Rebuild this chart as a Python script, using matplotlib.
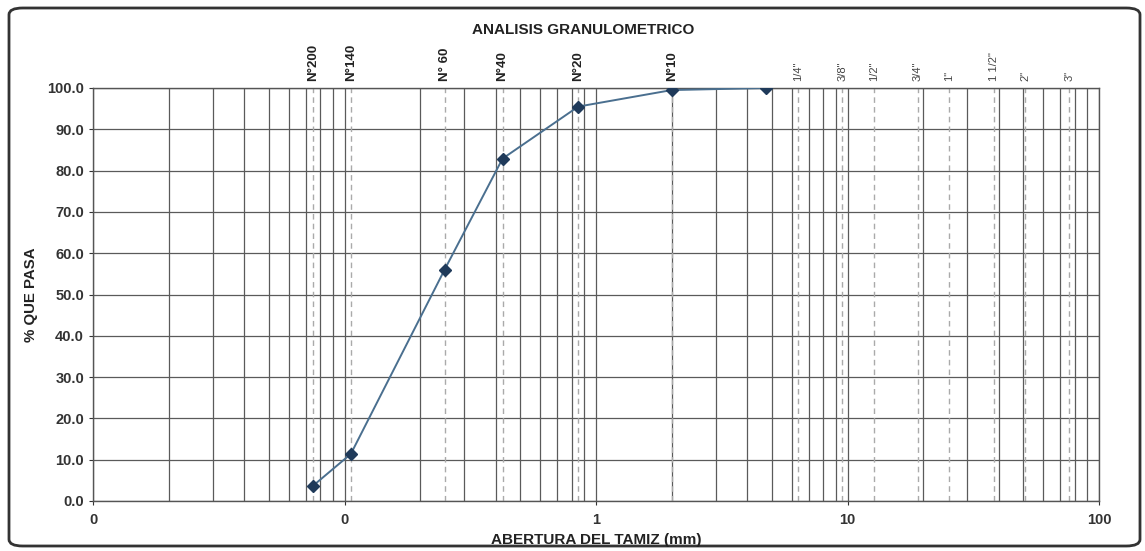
import matplotlib
matplotlib.use("Agg")
import matplotlib.pyplot as plt
from matplotlib.ticker import FixedLocator, FuncFormatter, LogLocator, NullFormatter
from matplotlib.patches import FancyBboxPatch

plt.rcParams['font.family'] = ['Liberation Sans', 'DejaVu Sans']

# --- data ---
opening_mm = [0.075, 0.106, 0.25, 0.425, 0.85, 2.0, 4.75]
pct_passing = [3.7, 11.4, 56.0, 82.9, 95.5, 99.5, 100.0]

sieve_names = ["N°200", "N°140", "N° 60", "N°40", "N°20", "N°10",
               "1/4\"", "3/8\"", "1/2\"", "3/4\"", "1\"", "1 1/2\"", "2\"", "3\""]
sieve_sizes = [0.075, 0.106, 0.25, 0.425, 0.85, 2.0,
               6.35, 9.525, 12.7, 19.05, 25.4, 38.1, 50.8, 76.2]

y_ticks = [0, 10, 20, 30, 40, 50, 60, 70, 80, 90, 100]

title = "ANALISIS GRANULOMETRICO"
xlabel = "ABERTURA DEL TAMIZ (mm)"
ylabel = "% QUE PASA"

fig = plt.figure(figsize=(11.45, 5.51), dpi=100)
ax = fig.add_axes([93/1145, 50/551, (1099-93)/1145, (501-88)/551])

ax.set_xscale('log')
ax.set_xlim(0.01, 100)
ax.set_ylim(0, 100)

# grid
ax.xaxis.set_major_locator(LogLocator(base=10))
ax.xaxis.set_minor_locator(LogLocator(base=10, subs=range(2, 10)))
ax.xaxis.set_minor_formatter(NullFormatter())
ax.xaxis.set_major_formatter(FuncFormatter(lambda v, p: f"{v:.0f}"))
ax.yaxis.set_major_locator(FixedLocator(y_ticks))
ax.yaxis.set_major_formatter(FuncFormatter(lambda v, p: f"{v:.1f}"))

ax.grid(True, which='major', axis='both', color='#5a5a5a', lw=0.9)
ax.grid(True, which='minor', axis='x', color='#5a5a5a', lw=0.9)
ax.set_axisbelow(True)

for s in sieve_sizes:
    ax.axvline(s, color='#aaaaaa', lw=1.0, ls=(0, (4, 3)), zorder=1.5)

for name, s in zip(sieve_names, sieve_sizes):
    big = name.startswith("N")
    ax.text(s, 101.8, name, rotation=90, ha='center', va='bottom',
            fontsize=9.5 if big else 8, fontweight='bold' if big else 'normal',
            color='#222222' if big else '#444444')

ax.plot(opening_mm, pct_passing, color='#4a6f8f', lw=1.4, marker='D',
        markersize=6, markerfacecolor='#1f3a5a', markeredgecolor='#1f3a5a', zorder=3)

for sp in ax.spines.values():
    sp.set_color('#555555')
    sp.set_linewidth(1.0)

ax.tick_params(axis='both', which='major', labelsize=10.5, colors='#333333',
               length=3, width=0.8)
ax.tick_params(axis='x', which='minor', length=0)
for lab in ax.get_xticklabels() + ax.get_yticklabels():
    lab.set_fontweight('bold')
ax.tick_params(axis='x', pad=6)

fig.text(583/1145, 1 - 30/551, title, ha='center', va='center',
         fontsize=11, fontweight='bold', color='#222222')
fig.text(596/1145, 1 - 540/551, xlabel, ha='center', va='center',
         fontsize=11, fontweight='bold', color='#222222')
fig.text(31/1145, 1 - 295/551, ylabel, ha='center', va='center', rotation=90,
         fontsize=10.8, fontweight='bold', color='#222222')

border = FancyBboxPatch((9/1145, 5/551), (1140-9)/1145, (543-5)/551,
                        boxstyle="round,pad=0,rounding_size=0.012",
                        transform=fig.transFigure, fill=False,
                        edgecolor='#333333', lw=2.0)
fig.patches.append(border)

fig.savefig("out.png", dpi=100)
